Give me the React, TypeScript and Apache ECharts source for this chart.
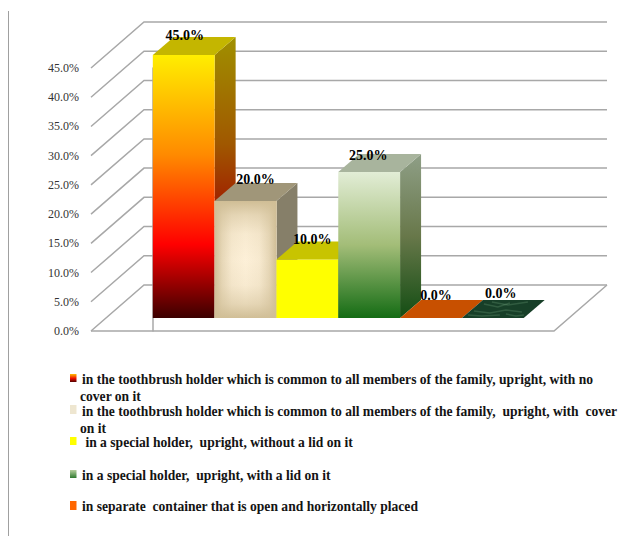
import React, { useEffect, useRef } from "react";
import * as echarts from "echarts";

// Share of respondents per way of storing the toothbrush, in percent.
const storagePlaces = [
  "in the toothbrush holder which is common to all members of the family, upright, with no cover on it",
  "in the toothbrush holder which is common to all members of the family,  upright, with  cover on it",
  " in a special holder,  upright, without a lid on it",
  "in a special holder,  upright, with a lid on it",
  "in separate  container that is open and horizontally placed",
  "",
];
const shares = [45, 20, 10, 25, 0, 0];
const wallTicks = [0, 5, 10, 15, 20, 25, 30, 35, 40, 45];

// Words that wrap onto a second legend line.
const legendTails = ["cover on it", "on it", "", "", ""];

const SERIF = "'Liberation Serif', 'Times New Roman', serif";
const WALL = "#a8a8a8";
const WALL_DEPTH = { x: 53, y: 46 };
const BAR_DEPTH = { x: 21, y: 18 };
const BAR_LIFT = 13;

const vgrad = (stops: [number, string][]) => ({
  type: "linear",
  x: 0,
  y: 0,
  x2: 0,
  y2: 1,
  colorStops: stops.map(([offset, color]) => ({ offset, color })),
});
const hgrad = (stops: [number, string][]) => ({
  type: "linear",
  x: 0,
  y: 0,
  x2: 1,
  y2: 0,
  colorStops: stops.map(([offset, color]) => ({ offset, color })),
});

const FLAME = vgrad([
  [0, "#ffee00"],
  [0.38, "#ff8a00"],
  [0.72, "#ff0000"],
  [1, "#3c0000"],
]);
const MEADOW = vgrad([
  [0, "#e2edd6"],
  [0.5, "#a3bd78"],
  [1, "#146c14"],
]);

const barPaint: { front: any; side: any; top: string }[] = [
  {
    front: FLAME,
    side: vgrad([
      [0, "#a09000"],
      [0.38, "#a05800"],
      [0.72, "#a00000"],
      [1, "#300000"],
    ]),
    top: "#c4b600",
  },
  { front: "#fdf0d8", side: "#867f69", top: "#a09679" },
  { front: "#ffff00", side: "#a0a000", top: "#c8c400" },
  {
    front: MEADOW,
    side: vgrad([
      [0, "#8f9f87"],
      [0.5, "#68784a"],
      [1, "#134d13"],
    ]),
    top: "#a8b49d",
  },
  { front: "#c85000", side: "#a04000", top: "#c85000" },
  { front: "#143c24", side: "#103020", top: "#173f28" },
];

// Where each value label sits relative to the middle of its bar's upper front edge.
const labelNudge = [
  [1, -20],
  [10, -22],
  [5, -20],
  [-1, -16],
  [5, -23],
  [8, -25],
];

// Marbled streaks on the dark floor tile, relative to its front-left corner.
const marble = [
  [[22, -14], [36, -11], [48, -15]],
  [[12, -7], [28, -5], [44, -8], [60, -6]],
  [[30, -16], [46, -13], [66, -16]],
  [[6, -3], [20, -2], [38, -3]],
  [[44, -4], [54, -2], [62, -3]],
];

const legendSwatches = [
  { y: 374, h: 8, fill: vgrad([[0, "#ffc000"], [0.55, "#f01000"], [1, "#500000"]]) },
  { y: 405, h: 9, fill: "#eee6d0" },
  { y: 437, h: 8, fill: "#ffff00" },
  { y: 470, h: 8, fill: vgrad([[0, "#b8cfa0"], [1, "#2f7a2f"]]) },
  { y: 501, h: 9, fill: "#ff6600" },
];
const legendFirstLineX = 82;
const legendSecondLineX = 80;
const legendLineY = [379, 411, 442, 475, 506];

function legendGraphics() {
  const font = `bold 14.5px ${SERIF}`;
  const squeeze = 0.937;
  const items: any[] = [];
  storagePlaces.slice(0, 5).forEach((name, i) => {
    const swatch = legendSwatches[i];
    items.push({
      type: "rect",
      silent: true,
      shape: { x: 70, y: swatch.y, width: 6.5, height: swatch.h },
      style: { fill: swatch.fill },
    });
    const tail = legendTails[i];
    const lines = tail ? [name.slice(0, name.length - tail.length).trimEnd(), tail] : [name];
    lines.forEach((line, k) => {
      items.push({
        type: "text",
        silent: true,
        x: k === 0 ? legendFirstLineX : legendSecondLineX,
        y: legendLineY[i] + k * 17,
        scaleX: squeeze,
        style: { text: line, font, fill: "#141414", align: "left", verticalAlign: "middle" },
      });
    });
  });
  return items;
}

function renderWalls(_: any, api: any) {
  const v = api.value(0);
  const [lx, y] = api.coord([-1, v]);
  const rx = api.coord([6.49, v])[0];
  const backY = y - WALL_DEPTH.y;
  const backL = lx + WALL_DEPTH.x;
  const backR = rx + WALL_DEPTH.x;
  const lineStyle = { stroke: WALL, lineWidth: 1.5, fill: "none" };
  const children: any[] = [
    { type: "polyline", shape: { points: [[lx, y], [backL, backY], [backR, backY]] }, style: lineStyle },
  ];
  if (v === 0) {
    children.push({
      type: "polyline",
      shape: { points: [[lx, y], [rx, y], [backR, backY]] },
      style: lineStyle,
    });
  }
  return { type: "group", children };
}

function renderBar(_: any, api: any) {
  const i = api.value(0);
  const v = api.value(1);
  const [x0, y0Raw] = api.coord([i, 0]);
  const [x1, yTopRaw] = api.coord([i + 1, v]);
  const y0 = y0Raw - BAR_LIFT;
  const yTop = yTopRaw - BAR_LIFT;
  const dx = BAR_DEPTH.x;
  const dy = BAR_DEPTH.y;
  const paint = barPaint[i];
  const children: any[] = [];

  if (v > 0) {
    children.push({
      type: "polygon",
      shape: { points: [[x1, yTop], [x1 + dx, yTop - dy], [x1 + dx, y0 - dy], [x1, y0]] },
      style: { fill: paint.side },
    });
    children.push({
      type: "rect",
      shape: { x: x0, y: yTop, width: x1 - x0, height: y0 - yTop },
      style: { fill: paint.front },
    });
    if (i === 1) {
      // The cream bar is shaded towards all four edges, like a picture frame.
      const rimStops: [number, string][] = [
        [0, "rgba(208,190,150,1)"],
        [0.12, "rgba(208,190,150,0.5)"],
        [0.28, "rgba(208,190,150,0.12)"],
        [0.5, "rgba(208,190,150,0)"],
        [0.72, "rgba(208,190,150,0.12)"],
        [0.88, "rgba(208,190,150,0.5)"],
        [1, "rgba(208,190,150,1)"],
      ];
      children.push({
        type: "rect",
        shape: { x: x0, y: yTop, width: x1 - x0, height: y0 - yTop },
        style: { fill: hgrad(rimStops) },
      });
      children.push({
        type: "rect",
        shape: { x: x0, y: yTop, width: x1 - x0, height: y0 - yTop },
        style: { fill: vgrad(rimStops) },
      });
    }
  }

  children.push({
    type: "polygon",
    shape: { points: [[x0, yTop], [x1, yTop], [x1 + dx, yTop - dy], [x0 + dx, yTop - dy]] },
    style: { fill: paint.top },
  });

  if (i === 5) {
    marble.forEach((points) => {
      children.push({
        type: "polyline",
        shape: { points: points.map(([px, py]) => [x0 + px, y0 + py]) },
        style: { stroke: "rgba(120,170,130,0.28)", lineWidth: 1.5, fill: "none" },
      });
    });
  }

  const [nx, ny] = labelNudge[i];
  children.push({
    type: "text",
    style: {
      text: `${v.toFixed(1)}%`,
      x: (x0 + x1) / 2 + nx,
      y: yTop + ny,
      font: `bold 14px ${SERIF}`,
      fill: "#000",
      align: "center",
      verticalAlign: "middle",
    },
  });
  return { type: "group", children };
}

export default function App() {
  const ref = useRef<HTMLDivElement>(null);

  useEffect(() => {
    const chart = echarts.init(ref.current!, null, { renderer: "svg" });
    chart.setOption({
      animation: false,
      backgroundColor: "#ffffff",
      grid: { left: 91, top: 68, width: 463, height: 263 },
      xAxis: { type: "value", min: -1, max: 6.49, show: false },
      yAxis: {
        type: "value",
        min: 0,
        max: 45,
        interval: 5,
        axisLine: { show: true, lineStyle: { color: WALL, width: 1.5 } },
        axisTick: { show: false },
        splitLine: { show: false },
        axisLabel: {
          margin: 12,
          color: "#333333",
          fontFamily: SERIF,
          fontSize: 12,
          padding: [4, 0, 0, 0],
          formatter: (v: number) => `${v.toFixed(1)}%`,
        },
      },
      graphic: [
        {
          type: "line",
          silent: true,
          shape: { x1: 8.5, y1: 11, x2: 8.5, y2: 536 },
          style: { stroke: "#a0a0a0", lineWidth: 1 },
        },
        ...legendGraphics(),
      ],
      series: [
        {
          type: "custom",
          silent: true,
          clip: false,
          z: 1,
          renderItem: renderWalls,
          data: wallTicks.map((v) => [v]),
          encode: { y: 0 },
        },
        {
          type: "custom",
          silent: true,
          clip: false,
          z: 2,
          renderItem: renderBar,
          data: shares.map((v, i) => [i, v]),
          encode: { x: 0, y: 1 },
        },
      ],
    });
    return () => chart.dispose();
  }, []);

  return <div ref={ref} style={{ position: "fixed", left: 0, top: 0, width: 639, height: 536 }} />;
}
